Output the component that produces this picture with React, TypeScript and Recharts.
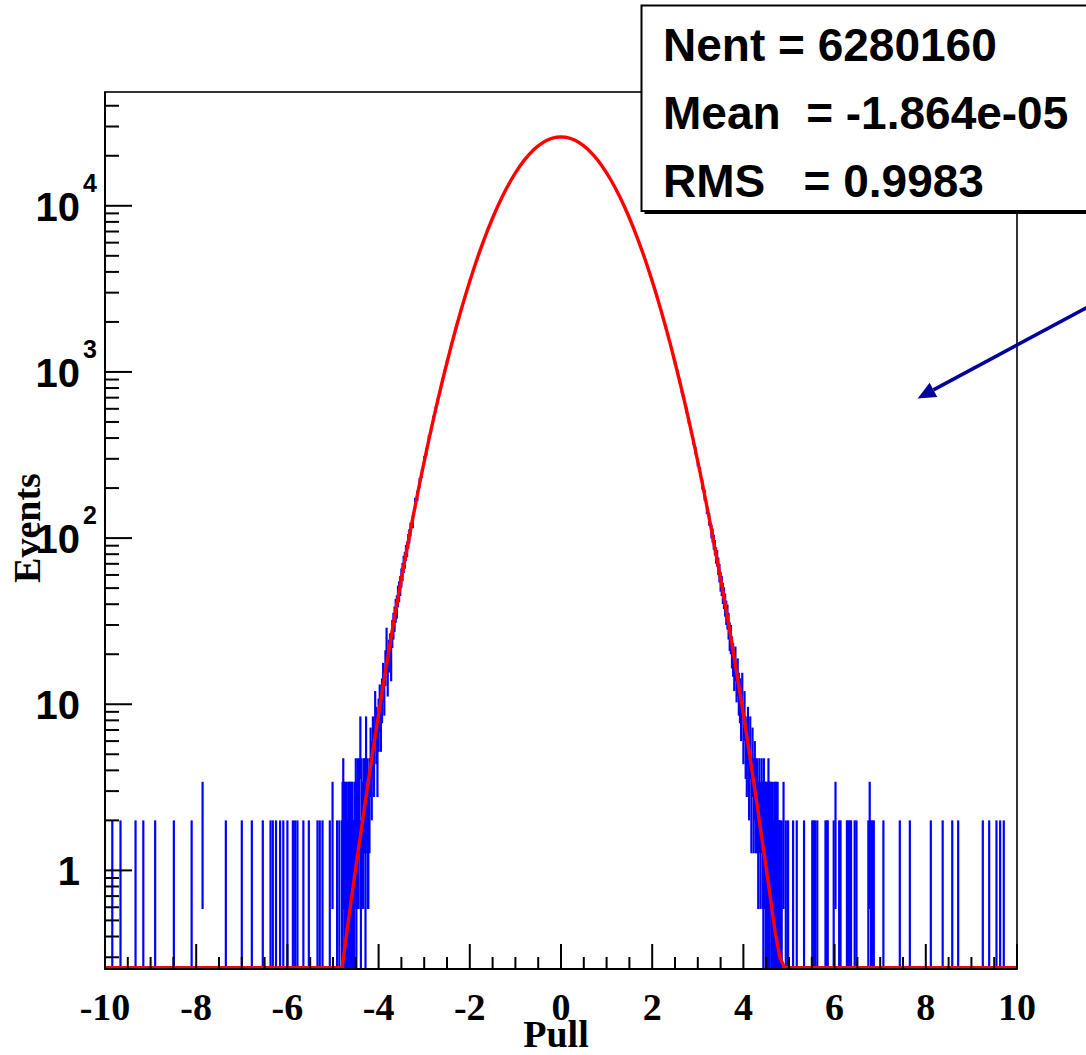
import {
  ComposedChart,
  Scatter,
  ErrorBar,
  Line,
  XAxis,
  YAxis,
  ReferenceArea,
  ReferenceLine,
} from "recharts";

// Pull distribution: histogram bins [pull, events] and the gaussian fit.
const leftTail: [number, number][] = [
  [-9.84, 1], [-9.66, 1], [-9.33, 1], [-9.16, 1], [-8.9, 1], [-8.49, 1],
  [-8.1, 1], [-7.86, 2], [-7.35, 1], [-7.0, 1], [-6.78, 1], [-6.54, 1],
  [-6.37, 1], [-6.32, 1], [-6.25, 1], [-6.16, 1], [-6.09, 1], [-6.0, 1],
  [-5.88, 1], [-5.83, 1], [-5.78, 1], [-5.65, 1], [-5.53, 1], [-5.34, 1],
  [-5.29, 1], [-5.23, 1], [-5.07, 1], [-5.01, 2], [-4.91, 1], [-4.86, 1],
];

const leftBand: [number, number][] = [
  [-4.8, 1], [-4.7875, 1], [-4.79, 2], [-4.775, 3], [-4.76, 2], [-4.75, 2],
  [-4.7375, 1], [-4.725, 2], [-4.71, 1], [-4.7, 2], [-4.6875, 1],
  [-4.675, 1], [-4.66, 2], [-4.65, 2], [-4.6375, 1], [-4.625, 2],
  [-4.61, 1], [-4.6, 2], [-4.5875, 1], [-4.575, 2], [-4.56, 1], [-4.55, 1],
  [-4.5375, 1], [-4.525, 2], [-4.5, 3], [-4.4875, 1], [-4.475, 2],
  [-4.45, 3], [-4.4375, 2], [-4.425, 3], [-4.4, 6], [-4.3875, 1],
  [-4.375, 3], [-4.35, 2], [-4.3375, 2], [-4.325, 3], [-4.3, 3],
  [-4.2875, 1], [-4.275, 6], [-4.25, 3], [-4.2375, 2], [-4.225, 2],
  [-4.2, 3], [-4.175, 5], [-4.15, 4], [-4.125, 6], [-4.1, 5], [-4.075, 9],
  [-4.05, 7], [-4.025, 5], [-4.0, 8], [-3.975, 10], [-3.95, 8], [-3.925, 11],
  [-3.9, 14], [-3.875, 12], [-3.85, 17], [-3.825, 24], [-3.8, 15],
  [-3.775, 20], [-3.75, 22], [-3.725, 18], [-3.7, 27], [-3.675, 30],
  [-3.65, 33], [-3.625, 37], [-3.6, 39], [-3.575, 45], [-3.55, 48],
  [-3.525, 52], [-3.5, 58], [-3.475, 63], [-3.45, 70], [-3.425, 74],
  [-3.4, 82], [-3.375, 86], [-3.35, 96], [-3.325, 103], [-3.3, 113],
  [-3.25, 126], [-3.2, 162], [-3.15, 180], [-3.1, 216], [-3.05, 246],
  [-3.0, 294], [-2.95, 332], [-2.9, 395], [-2.85, 448], [-2.8, 522],
  [-2.75, 596], [-2.7, 680], [-2.65, 776], [-2.6, 890], [-2.55, 1010],
  [-2.5, 1150],
];

const centre: [number, number][] = [
  [-2.4, 1470], [-2.3, 1850], [-2.2, 2330], [-2.1, 2880], [-2.0, 3540],
  [-1.9, 4290], [-1.8, 5160], [-1.7, 6140], [-1.6, 7240], [-1.5, 8460],
  [-1.4, 9770], [-1.3, 11190], [-1.2, 12670], [-1.1, 14210], [-1.0, 15790],
  [-0.9, 17360], [-0.8, 18900], [-0.7, 20370], [-0.6, 21740], [-0.5, 22960],
  [-0.4, 24020], [-0.3, 24880], [-0.2, 25500], [-0.1, 25890], [0, 26020],
  [0.1, 25860], [0.2, 25470], [0.3, 24840], [0.4, 23990], [0.5, 22930],
  [0.6, 21700], [0.7, 20330], [0.8, 18860], [0.9, 17330], [1.0, 15750],
  [1.1, 14180], [1.2, 12640], [1.3, 11160], [1.4, 9750], [1.5, 8430],
  [1.6, 7220], [1.7, 6120], [1.8, 5140], [1.9, 4270], [2.0, 3510],
  [2.1, 2860], [2.2, 2300], [2.3, 1840], [2.4, 1455],
];

const rightBand: [number, number][] = [
  [2.5, 1140], [2.55, 1000], [2.6, 882], [2.65, 770], [2.7, 676],
  [2.75, 590], [2.8, 512], [2.85, 446], [2.9, 384], [2.95, 336],
  [3.0, 286], [3.05, 250], [3.1, 210], [3.15, 182], [3.2, 152],
  [3.25, 130], [3.3, 110], [3.325, 104], [3.35, 95], [3.375, 88],
  [3.4, 79], [3.425, 76], [3.45, 68], [3.475, 62], [3.5, 55], [3.525, 52],
  [3.55, 47], [3.575, 44], [3.6, 40], [3.625, 36], [3.65, 34], [3.675, 30],
  [3.7, 26], [3.725, 25], [3.75, 21], [3.775, 19], [3.8, 16], [3.825, 18],
  [3.85, 14], [3.875, 15], [3.9, 12], [3.925, 11], [3.95, 9], [3.975, 12],
  [4.0, 7], [4.025, 9], [4.05, 6], [4.075, 5], [4.1, 7], [4.125, 4],
  [4.15, 6], [4.175, 3], [4.2, 5], [4.225, 3], [4.25, 4], [4.275, 3],
  [4.3, 3], [4.325, 2], [4.35, 3], [4.375, 2], [4.4, 3], [4.425, 2],
  [4.4375, 1], [4.45, 3], [4.465, 2], [4.475, 2], [4.4875, 1], [4.5, 2],
  [4.515, 1], [4.525, 2], [4.5375, 1], [4.55, 3], [4.565, 2], [4.575, 1],
  [4.5875, 2], [4.6, 2], [4.615, 1], [4.625, 2], [4.6375, 1], [4.65, 1],
  [4.6625, 1], [4.675, 2], [4.69, 1], [4.7, 2], [4.7125, 2], [4.725, 1],
  [4.75, 2], [4.7625, 1], [4.775, 1], [4.7875, 1], [4.8, 1],
];

const rightTail: [number, number][] = [
  [4.84, 1], [4.88, 2], [4.93, 1], [4.98, 1], [5.09, 1], [5.17, 1],
  [5.33, 1], [5.51, 1], [5.54, 1], [5.57, 1], [5.62, 1], [5.8, 1],
  [5.83, 1], [5.85, 1], [5.98, 1], [6.02, 2], [6.1, 1], [6.13, 1],
  [6.27, 1], [6.3, 1], [6.33, 1], [6.36, 1], [6.44, 1], [6.48, 1],
  [6.74, 1], [6.77, 2], [6.8, 1], [6.83, 1], [6.86, 1], [7.07, 1],
  [7.43, 1], [7.65, 1], [8.11, 1], [8.37, 1], [8.58, 1], [8.71, 1],
  [9.25, 1], [9.39, 1], [9.55, 1], [9.63, 1], [9.71, 1],
];

const fitCurve: [number, number][] = [
  [-10, 0.26], [-4.8, 0.26], [-4.7, 0.42], [-4.6, 0.66], [-4.5, 1.04],
  [-4.4, 1.6], [-4.3, 2.5], [-4.2, 3.8], [-4.1, 5.8], [-4.0, 8.7],
  [-3.9, 12.9], [-3.8, 19], [-3.7, 28], [-3.6, 40], [-3.5, 57], [-3.4, 80],
  [-3.3, 112], [-3.2, 155], [-3.1, 213], [-3.0, 289], [-2.9, 388],
  [-2.8, 516], [-2.7, 680], [-2.6, 885], [-2.5, 1140], [-2.4, 1460],
  [-2.3, 1850], [-2.2, 2310], [-2.1, 2870], [-2.0, 3520], [-1.9, 4280],
  [-1.8, 5150], [-1.7, 6130], [-1.6, 7230], [-1.5, 8440], [-1.4, 9760],
  [-1.3, 11170], [-1.2, 12660], [-1.1, 14200], [-1.0, 15770], [-0.9, 17340],
  [-0.8, 18880], [-0.7, 20350], [-0.6, 21720], [-0.5, 22950], [-0.4, 24000],
  [-0.3, 24860], [-0.2, 25490], [-0.1, 25870], [0, 26000], [0.1, 25870],
  [0.2, 25490], [0.3, 24860], [0.4, 24000], [0.5, 22950], [0.6, 21720],
  [0.7, 20350], [0.8, 18880], [0.9, 17340], [1.0, 15770], [1.1, 14200],
  [1.2, 12660], [1.3, 11170], [1.4, 9760], [1.5, 8440], [1.6, 7230],
  [1.7, 6130], [1.8, 5150], [1.9, 4280], [2.0, 3520], [2.1, 2870],
  [2.2, 2310], [2.3, 1850], [2.4, 1460], [2.5, 1140], [2.6, 885],
  [2.7, 680], [2.8, 516], [2.9, 388], [3.0, 289], [3.1, 213], [3.2, 155],
  [3.3, 112], [3.4, 80], [3.5, 57], [3.6, 40], [3.7, 28], [3.8, 19],
  [3.9, 12.9], [4.0, 8.7], [4.1, 5.8], [4.2, 3.8], [4.3, 2.5], [4.4, 1.6],
  [4.5, 1.04], [4.6, 0.66], [4.7, 0.42], [4.8, 0.3], [4.9, 0.26], [10, 0.26],
];

const pullMajorTicks = [-10, -8, -6, -4, -2, 0, 2, 4, 6, 8, 10];
const pullMinorTicks = [
  -9.5, -9, -8.5, -7.5, -7, -6.5, -5.5, -5, -4.5, -3.5, -3, -2.5, -1.5, -1,
  -0.5, 0.5, 1, 1.5, 2.5, 3, 3.5, 4.5, 5, 5.5, 6.5, 7, 7.5, 8.5, 9, 9.5,
];

const eventsTickLabels = [
  { value: 1, base: "1", sup: "" },
  { value: 10, base: "10", sup: "" },
  { value: 100, base: "10", sup: "2" },
  { value: 1000, base: "10", sup: "3" },
  { value: 10000, base: "10", sup: "4" },
];
const eventsMinorTicks = [
  0.3, 0.4, 0.5, 0.6, 0.7, 0.8, 0.9,
  2, 3, 4, 5, 6, 7, 8, 9,
  20, 30, 40, 50, 60, 70, 80, 90,
  200, 300, 400, 500, 600, 700, 800, 900,
  2000, 3000, 4000, 5000, 6000, 7000, 8000, 9000,
  20000, 30000, 40000,
];

const statsLines = ["Nent = 6280160", "Mean  = -1.864e-05", "RMS   = 0.9983"];

const PULL_DOMAIN: [number, number] = [-10, 10];
const EVENTS_DOMAIN: [number, number] = [0.255, 48400];

const SANS = "'Liberation Sans', Arial, Helvetica, sans-serif";
const SERIF = "'Liberation Serif', 'Times New Roman', serif";
const HIST_BLUE = "#0000ff";
const FIT_RED = "#ff0000";
const ARROW_BLUE = "#00009c";

// each bin: count with a sqrt(n) error bar, cut at the bottom of the frame
const binRows = [...leftTail, ...leftBand, ...centre, ...rightBand, ...rightTail].map(
  ([x, n]) => {
    const s = Math.sqrt(n);
    const lo = Math.max(n - s, EVENTS_DOMAIN[0]);
    return { x, n, e: [n - lo, s] };
  }
);
const fitRows = fitCurve.map(([x, fit]) => ({ x, fit }));

const eventsTicks = [...eventsMinorTicks, ...eventsTickLabels.map((l) => l.value)].sort(
  (a, b) => a - b
);
const pullTicks = [...pullMinorTicks, ...pullMajorTicks].sort((a, b) => a - b);

const renderPullTick = (props: any) => {
  const { x, y, payload } = props;
  const v = payload.value;
  const major = pullMajorTicks.includes(v);
  return (
    <g>
      <line x1={x} x2={x} y1={y} y2={y - (major ? 25 : 12)} stroke="#000" strokeWidth={2} />
      {major && (
        <text x={x} y={y + 51} textAnchor="middle" fontFamily={SERIF} fontWeight="bold" fontSize={38} fill="#000">
          {v}
        </text>
      )}
    </g>
  );
};

const renderEventsTick = (props: any) => {
  const { x, y, payload } = props;
  const label = eventsTickLabels.find((l) => l.value === payload.value);
  return (
    <g>
      <line x1={x} x2={x + (label ? 27 : 14)} y1={y} y2={y} stroke="#000" strokeWidth={2} />
      {label && (
        <text x={x - 25} y={y + 15} textAnchor="end" fontFamily={SANS} fontWeight="bold" fontSize={40} fill="#000">
          {label.base}
        </text>
      )}
      {label && label.sup && (
        <text x={x - 22} y={y - 14} fontFamily={SANS} fontWeight="bold" fontSize={25} fill="#000">
          {label.sup}
        </text>
      )}
    </g>
  );
};

// no marker at the bin centre, only the error bar is drawn
const noMarker = () => <g />;

const arrowShape = (p: any) => {
  const { x1, y1, x2, y2 } = p;
  const len = Math.hypot(x2 - x1, y2 - y1) || 1;
  const ux = (x2 - x1) / len;
  const uy = (y2 - y1) / len;
  const head = 18;
  const half = 8;
  const bx = x2 - ux * head;
  const by = y2 - uy * head;
  return (
    <g>
      <line x1={x1} y1={y1} x2={bx} y2={by} stroke={ARROW_BLUE} strokeWidth={3.5} />
      <polygon
        points={`${x2},${y2} ${bx - uy * half},${by + ux * half} ${bx + uy * half},${by - ux * half}`}
        fill={ARROW_BLUE}
      />
    </g>
  );
};

export default function App() {
  return (
    <div style={{ position: "absolute", left: 0, top: 0, width: 1086, height: 1055, background: "#fff" }}>
      <ComposedChart width={1086} height={1055} margin={{ top: 92, right: 69, bottom: 0, left: 0 }}>
        <XAxis
          dataKey="x"
          type="number"
          domain={PULL_DOMAIN}
          allowDataOverflow
          ticks={pullTicks}
          interval={0}
          tickSize={0}
          tickMargin={0}
          tickLine={false}
          tick={renderPullTick}
          axisLine={{ stroke: "#000", strokeWidth: 2 }}
          height={86}
          label={{
            content: (lp: any) => {
              const vb = lp.viewBox || { x: 105, y: 969, width: 912 };
              return (
                <text x={vb.x + vb.width / 2 - 5} y={vb.y + 78} textAnchor="middle" fontFamily={SERIF} fontWeight="bold" fontSize={38} fill="#000">
                  Pull
                </text>
              );
            },
          }}
        />
        <YAxis
          type="number"
          scale="log"
          domain={EVENTS_DOMAIN}
          allowDataOverflow
          ticks={eventsTicks}
          interval={0}
          tickSize={0}
          tickMargin={0}
          tickLine={false}
          tick={renderEventsTick}
          axisLine={{ stroke: "#000", strokeWidth: 2 }}
          width={105}
          label={{
            content: () => (
              <text x={40} y={528} transform="rotate(-90, 40, 528)" textAnchor="middle" fontFamily={SERIF} fontWeight="bold" fontSize={38} fill="#000">
                Events
              </text>
            ),
          }}
        />
        <ReferenceArea
          x1={PULL_DOMAIN[0]}
          x2={PULL_DOMAIN[1]}
          y1={EVENTS_DOMAIN[0]}
          y2={EVENTS_DOMAIN[1]}
          fill="none"
          fillOpacity={0}
          stroke="#333"
          strokeWidth={2}
          ifOverflow="visible"
        />
        <Scatter data={binRows} dataKey="n" shape={noMarker} isAnimationActive={false}>
          <ErrorBar
            dataKey="e"
            direction="y"
            width={0}
            stroke={HIST_BLUE}
            strokeWidth={2.2}
            isAnimationActive={false}
          />
        </Scatter>
        <Line
          data={fitRows}
          dataKey="fit"
          type="linear"
          stroke={FIT_RED}
          strokeWidth={3.4}
          dot={false}
          isAnimationActive={false}
        />
        <ReferenceLine
          segment={[
            { x: 11.6, y: 2500 },
            { x: 7.82, y: 693 },
          ]}
          ifOverflow="visible"
          shape={arrowShape}
        />
      </ComposedChart>
      <svg
        width={1086}
        height={1055}
        style={{ position: "absolute", left: 0, top: 0, pointerEvents: "none" }}
      >
        <rect x={644.5} y={8.5} width={450} height={205.5} fill="#000" />
        <rect x={641.5} y={5.5} width={450} height={205.5} fill="#fff" stroke="#000" strokeWidth={2} />
        {statsLines.map((s, i) => (
          <text
            key={s}
            x={663}
            y={61 + i * 68}
            fontFamily={SANS}
            fontWeight="bold"
            fontSize={46}
            fill="#000"
            style={{ whiteSpace: "pre" }}
          >
            {s}
          </text>
        ))}
      </svg>
    </div>
  );
}
